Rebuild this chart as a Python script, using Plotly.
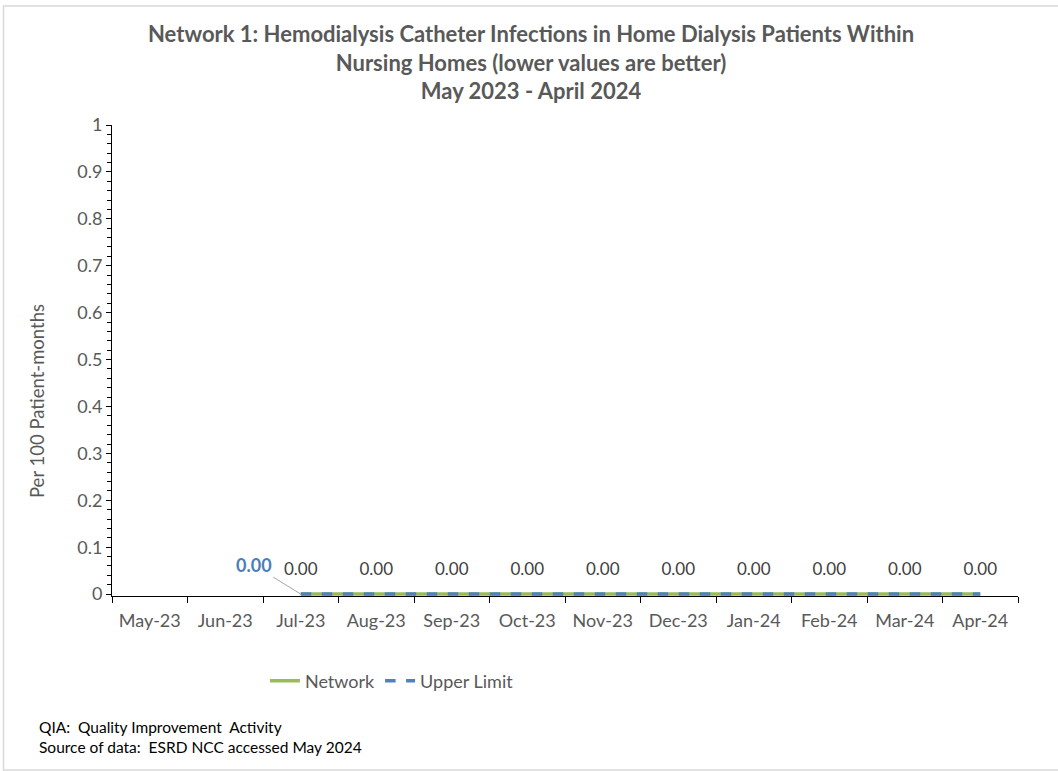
import plotly.graph_objects as go

months = ['May-23', 'Jun-23', 'Jul-23', 'Aug-23', 'Sep-23', 'Oct-23',
          'Nov-23', 'Dec-23', 'Jan-24', 'Feb-24', 'Mar-24', 'Apr-24']
network = [None, None, 0, 0, 0, 0, 0, 0, 0, 0, 0, 0]
upper_limit = [None, None, 0, 0, 0, 0, 0, 0, 0, 0, 0, 0]

FONT = 'Lato, Calibri, sans-serif'
GRAY = '#595959'

net_text = ['' if v is None else '{:.2f}'.format(v) for v in network]

fig = go.Figure()

# green network line
fig.add_trace(go.Scatter(
    x=months, y=network, name='Network', mode='lines',
    line=dict(color='#9bbb59', width=3.5),
))

# dashed upper limit drawn over it
fig.add_trace(go.Scatter(
    x=months, y=upper_limit, name='Upper Limit', mode='lines',
    line=dict(color='#4f81bd', width=3.5, dash='dash'),
))

# network data labels (invisible markers just push the text up a bit)
fig.add_trace(go.Scatter(
    x=months, y=network, mode='markers+text', showlegend=False, hoverinfo='skip',
    marker=dict(size=22, opacity=0),
    text=net_text, textposition='top center',
    textfont=dict(family=FONT, size=17, color='#404040'),
    cliponaxis=False,
))

# the one upper-limit label, pulled to the left with a leader line
first = next(i for i, v in enumerate(upper_limit) if v is not None)
fig.add_annotation(
    x=months[first], y=upper_limit[first],
    text='<b>{:.2f}</b>'.format(upper_limit[first]),
    showarrow=True, arrowhead=0, arrowwidth=1, arrowcolor='#a6a6a6',
    ax=-47, ay=-29,
    font=dict(family=FONT, size=18, color='#4a7ebb'),
)

fig.update_layout(
    width=1058, height=771,
    margin=dict(l=112, r=40, t=125, b=175),
    paper_bgcolor='white', plot_bgcolor='white',
    font=dict(family=FONT, size=17, color=GRAY),
    showlegend=True,
    legend=dict(orientation='h', x=0.309, xanchor='center', y=-0.1805, yanchor='middle',
                font=dict(family=FONT, size=18, color=GRAY)),
)

# title as an annotation so the three lines sit where they should
fig.add_annotation(
    xref='paper', yref='paper', x=(531 - 112) / 906, y=(596 - 18) / 471,
    xanchor='center', yanchor='top', showarrow=False, align='center',
    text='<b>Network 1: Hemodialysis Catheter Infections in Home Dialysis Patients Within<br>'
         'Nursing Homes (lower values are better)<br>May 2023 - April 2024</b>',
    font=dict(family=FONT, size=22, color=GRAY),
)

# y axis title, sits a little below the middle like the original
fig.add_annotation(
    xref='paper', yref='paper', x=(37 - 112) / 906, y=(596 - 401) / 471,
    xanchor='center', yanchor='middle', showarrow=False, textangle=-90,
    text='Per 100 Patient-months',
    font=dict(family=FONT, size=18.5, color=GRAY),
)

fig.update_xaxes(
    type='category', range=[-0.5, 11.5],
    showline=True, linecolor='black', linewidth=1, layer='below traces',
    tickson='boundaries', ticks='outside', ticklen=6, tickcolor='black',
    ticklabelstandoff=8,
    showgrid=False, tickfont=dict(size=18, color=GRAY),
)
fig.update_yaxes(
    range=[-0.004, 1], tick0=0, dtick=0.1, tickformat='.1~f',
    showline=True, linecolor='black', linewidth=1,
    ticks='outside', ticklen=5, tickcolor='black',
    minor=dict(dtick=0.02, ticks='outside', ticklen=4, tickcolor='black'),
    showgrid=False, zeroline=False,
    tickfont=dict(size=18, color=GRAY),
)

# footnotes
fig.add_annotation(
    xref='paper', yref='paper', x=(37 - 112) / 906, y=(596 - 716) / 471,
    xanchor='left', yanchor='top', align='left', showarrow=False,
    text='QIA:  Quality Improvement  Activity<br>Source of data:  ESRD NCC accessed May 2024',
    font=dict(family=FONT, size=15.5, color='black'),
)

# light chart-area border
fig.add_shape(type='rect', xref='paper', yref='paper',
              x0=(3.5 - 112) / 906, x1=1.06, y0=(596 - 770) / 471, y1=(596 - 6) / 471,
              line=dict(color='#d9d9d9', width=1.5), layer='below')

fig.write_html('out.html', config={'displayModeBar': False},
               post_script="document.body.style.margin='0';")
